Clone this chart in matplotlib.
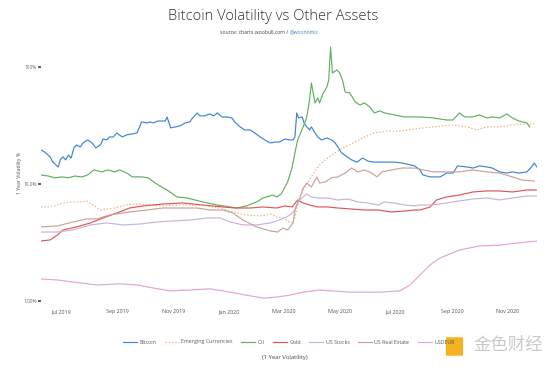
import pandas as pd
import matplotlib
matplotlib.use('Agg')
import matplotlib.pyplot as plt
import matplotlib.dates as mdates
from matplotlib.patches import FancyBboxPatch

plt.rcParams['font.family'] = ['Open Sans', 'DejaVu Sans']

# ---- data (1 year volatility, %) ----
btc_dates = ['2019-06-09', '2019-06-13', '2019-06-19', '2019-06-22', '2019-06-28', '2019-06-30', '2019-07-03',
             '2019-07-06', '2019-07-09', '2019-07-12', '2019-07-15', '2019-07-18', '2019-07-22', '2019-07-25',
             '2019-07-30', '2019-08-04', '2019-08-08', '2019-08-13', '2019-08-16', '2019-08-20', '2019-08-23',
             '2019-08-27', '2019-08-31', '2019-09-06', '2019-09-11', '2019-09-17', '2019-09-22', '2019-09-25',
             '2019-09-27', '2019-10-03', '2019-10-06', '2019-10-10', '2019-10-15', '2019-10-20', '2019-10-23',
             '2019-10-25', '2019-10-29', '2019-11-03', '2019-11-08', '2019-11-14', '2019-11-19', '2019-11-22',
             '2019-11-27', '2019-11-30', '2019-12-05', '2019-12-11', '2019-12-15', '2019-12-19', '2019-12-24',
             '2019-12-29', '2020-01-04', '2020-01-07', '2020-01-13', '2020-01-18', '2020-01-24', '2020-01-29',
             '2020-02-04', '2020-02-09', '2020-02-15', '2020-02-20', '2020-02-25', '2020-03-02', '2020-03-07',
             '2020-03-11', '2020-03-13', '2020-03-15', '2020-03-17', '2020-03-21', '2020-03-23', '2020-03-26',
             '2020-03-29', '2020-03-31', '2020-04-04', '2020-04-07', '2020-04-11', '2020-04-17', '2020-04-22',
             '2020-04-26', '2020-04-29', '2020-05-03', '2020-05-09', '2020-05-14', '2020-05-20', '2020-05-26',
             '2020-06-01', '2020-06-08', '2020-06-19', '2020-06-30', '2020-07-09', '2020-07-17', '2020-07-22',
             '2020-07-28', '2020-07-31', '2020-08-08', '2020-08-19', '2020-08-26', '2020-09-02', '2020-09-07',
             '2020-09-17', '2020-09-24', '2020-10-01', '2020-10-09', '2020-10-15', '2020-10-23', '2020-10-31',
             '2020-11-06', '2020-11-13', '2020-11-22', '2020-11-27', '2020-11-30', '2020-12-03']
btc_vals = [19.6, 18.8, 17.1, 15.4, 14.0, 16.1, 17.1,
            16.1, 17.7, 16.7, 20.4, 21.6, 20.8, 22.5,
            23.9, 22.5, 20.4, 21.6, 24.3, 23.9, 25.3,
            25.3, 27.4, 25.3, 26.4, 26.9, 27.4, 30.9,
            34.1, 33.4, 34.1, 33.4, 34.7, 34.7, 34.7,
            37.6, 30.3, 30.9, 31.5, 33.4, 34.1, 36.9,
            40.7, 38.4, 38.4, 39.9, 38.4, 40.7, 37.6,
            37.6, 36.9, 34.1, 30.9, 29.1, 29.1, 27.4,
            25.3, 23.9, 22.5, 22.9, 22.9, 24.3, 23.9,
            23.9, 25.3, 40.7, 36.9, 37.6, 33.4, 30.9,
            29.1, 30.9, 27.4, 25.3, 23.9, 24.8, 23.9,
            22.5, 20.8, 18.5, 17.1, 16.1, 15.4, 16.7,
            15.7, 15.4, 15.4, 15.4, 15.1, 14.6, 14.3,
            13.2, 11.95, 11.5, 11.5, 12.4, 12.4, 14.3,
            14.0, 13.7, 14.3, 14.0, 13.7, 12.7, 12.4,
            12.7, 12.4, 12.7, 14.0, 15.1, 14.0]

em_dates = ['2019-06-09', '2019-06-17', '2019-06-24', '2019-07-02', '2019-07-13', '2019-07-24', '2019-07-29',
            '2019-08-05', '2019-08-13', '2019-08-20', '2019-08-29', '2019-09-09', '2019-09-20', '2019-10-04',
            '2019-10-20', '2019-11-08', '2019-11-30', '2019-12-22', '2020-01-02', '2020-01-09', '2020-01-20',
            '2020-02-04', '2020-02-15', '2020-02-22', '2020-02-29', '2020-03-07', '2020-03-11', '2020-03-13',
            '2020-03-18', '2020-03-24', '2020-03-31', '2020-04-07', '2020-04-15', '2020-04-26', '2020-05-07',
            '2020-05-18', '2020-05-28', '2020-06-08', '2020-06-23', '2020-07-08', '2020-07-22', '2020-08-11',
            '2020-09-02', '2020-09-17', '2020-09-28', '2020-10-09', '2020-10-23', '2020-11-06', '2020-11-17',
            '2020-11-30']
em_vals = [6.35, 6.35, 6.48, 6.87, 7.01, 7.01, 7.15,
           6.60, 5.98, 6.10, 6.22, 6.60, 6.73, 6.60,
           6.48, 6.60, 6.60, 6.22, 5.86, 5.64, 5.42,
           5.31, 5.53, 5.21, 5.11, 4.72, 4.63, 5.21,
           7.73, 9.42, 11.5, 14.0, 16.1, 18.5, 20.8,
           22.9, 25.3, 27.4, 28.5, 28.5, 29.7, 30.9,
           32.1, 30.9, 29.1, 30.9, 30.9, 32.1, 32.7,
           32.7]

oil_dates = ['2019-06-09', '2019-06-17', '2019-06-24', '2019-07-02', '2019-07-09', '2019-07-16', '2019-07-24',
             '2019-07-30', '2019-08-06', '2019-08-15', '2019-08-21', '2019-08-29', '2019-09-03', '2019-09-11',
             '2019-09-17', '2019-09-22', '2019-09-27', '2019-10-04', '2019-10-12', '2019-10-19', '2019-10-25',
             '2019-11-05', '2019-11-16', '2019-12-03', '2019-12-19', '2020-01-02', '2020-01-09', '2020-01-20',
             '2020-01-31', '2020-02-07', '2020-02-18', '2020-02-22', '2020-02-27', '2020-03-02', '2020-03-05',
             '2020-03-10', '2020-03-13', '2020-03-16', '2020-03-22', '2020-03-26', '2020-03-29', '2020-03-31',
             '2020-04-04', '2020-04-07', '2020-04-09', '2020-04-13', '2020-04-17', '2020-04-19', '2020-04-21',
             '2020-04-23', '2020-04-28', '2020-05-01', '2020-05-04', '2020-05-07', '2020-05-12', '2020-05-18',
             '2020-05-23', '2020-05-28', '2020-06-03', '2020-06-08', '2020-06-14', '2020-06-19', '2020-06-30',
             '2020-07-11', '2020-07-20', '2020-07-28', '2020-08-11', '2020-08-26', '2020-09-02', '2020-09-09',
             '2020-09-15', '2020-09-23', '2020-10-01', '2020-10-09', '2020-10-15', '2020-10-23', '2020-10-31',
             '2020-11-06', '2020-11-13', '2020-11-22', '2020-11-25']
oil_vals = [11.95, 11.7, 11.3, 11.5, 11.3, 11.7, 11.5,
            11.95, 13.2, 12.7, 13.2, 12.7, 13.2, 12.4,
            11.5, 11.5, 11.5, 11.3, 10.2, 9.42, 8.88,
            7.73, 7.58, 7.01, 6.60, 6.35, 6.22, 6.48,
            7.01, 7.58, 8.04, 7.73, 8.21, 9.42, 10.4,
            14.0, 18.5, 23.9, 30.9, 37.6, 52.6, 73.6,
            49.6, 54.7, 49.6, 60.4, 68.0, 78.1, 150.0,
            89.7, 95.2, 89.7, 78.1, 61.6, 60.4, 50.6,
            47.6, 49.6, 45.8, 40.7, 42.4, 40.7, 39.1,
            37.6, 37.6, 37.6, 36.9, 35.4, 35.4, 40.7,
            37.6, 37.6, 39.1, 36.9, 37.6, 36.9, 39.9,
            36.9, 34.7, 33.4, 30.9]

gold_dates = ['2019-06-09', '2019-06-19', '2019-06-27', '2019-07-03', '2019-07-18', '2019-08-02', '2019-08-16',
              '2019-08-31', '2019-09-14', '2019-09-29', '2019-10-20', '2019-11-11', '2019-12-03', '2019-12-25',
              '2020-01-09', '2020-01-24', '2020-02-07', '2020-02-22', '2020-03-02', '2020-03-10', '2020-03-16',
              '2020-03-18', '2020-03-22', '2020-03-29', '2020-04-07', '2020-04-18', '2020-04-29', '2020-05-14',
              '2020-05-28', '2020-06-12', '2020-06-27', '2020-07-11', '2020-07-22', '2020-07-28', '2020-08-08',
              '2020-08-15', '2020-08-26', '2020-09-09', '2020-09-24', '2020-10-09', '2020-10-23', '2020-11-06',
              '2020-11-22', '2020-12-03']
gold_vals = [3.24, 3.31, 3.65, 4.03, 4.28, 4.63, 5.11,
             5.64, 6.22, 6.48, 6.73, 6.87, 6.60, 6.35,
             6.22, 6.22, 6.35, 6.22, 6.48, 6.35, 7.29,
             7.15, 6.87, 6.60, 6.35, 6.35, 6.22, 6.10,
             5.98, 5.98, 5.75, 5.86, 5.98, 5.98, 6.35,
             7.29, 7.73, 8.04, 8.54, 8.71, 8.71, 8.54,
             8.88, 8.88]

stocks_dates = ['2019-06-09', '2019-06-27', '2019-07-14', '2019-08-02', '2019-08-20', '2019-09-07', '2019-09-25',
                '2019-10-14', '2019-10-31', '2019-11-19', '2019-12-08', '2019-12-22', '2020-01-02', '2020-01-16',
                '2020-01-31', '2020-02-15', '2020-02-25', '2020-03-04', '2020-03-10', '2020-03-13', '2020-03-16',
                '2020-03-22', '2020-03-26', '2020-03-31', '2020-04-07', '2020-04-18', '2020-04-29', '2020-05-10',
                '2020-05-21', '2020-06-01', '2020-06-12', '2020-06-19', '2020-06-30', '2020-07-11', '2020-07-22',
                '2020-07-28', '2020-08-11', '2020-08-26', '2020-09-09', '2020-09-24', '2020-10-09', '2020-10-23',
                '2020-11-06', '2020-11-22', '2020-12-03']
stocks_vals = [3.87, 3.87, 4.03, 4.45, 4.63, 4.45, 4.53,
               4.72, 4.81, 4.91, 5.11, 5.11, 4.72, 4.45,
               4.45, 4.63, 4.91, 5.21, 5.64, 5.98, 7.01,
               7.73, 8.21, 7.73, 7.58, 7.58, 7.29, 7.43,
               7.01, 6.87, 6.60, 7.01, 6.87, 6.60, 6.48,
               6.60, 6.60, 6.87, 7.15, 7.43, 7.58, 7.29,
               7.58, 7.89, 7.89]

reit_dates = ['2019-06-09', '2019-06-27', '2019-07-14', '2019-07-29', '2019-08-09', '2019-08-23', '2019-09-14',
              '2019-10-03', '2019-10-20', '2019-11-08', '2019-11-27', '2019-12-11', '2019-12-25', '2020-01-05',
              '2020-01-16', '2020-01-31', '2020-02-15', '2020-02-23', '2020-02-29', '2020-03-05', '2020-03-11',
              '2020-03-13', '2020-03-18', '2020-03-22', '2020-03-26', '2020-03-31', '2020-04-06', '2020-04-09',
              '2020-04-15', '2020-04-22', '2020-04-29', '2020-05-07', '2020-05-14', '2020-05-21', '2020-05-28',
              '2020-06-05', '2020-06-11', '2020-06-16', '2020-06-27', '2020-07-08', '2020-07-22', '2020-08-11',
              '2020-08-26', '2020-09-09', '2020-09-24', '2020-10-09', '2020-10-23', '2020-11-06', '2020-11-17',
              '2020-11-30']
reit_vals = [4.28, 4.36, 4.72, 5.01, 5.01, 5.42, 5.75,
             5.98, 6.22, 6.22, 6.22, 5.98, 5.98, 5.64,
             4.91, 4.28, 3.95, 3.87, 4.19, 4.03, 4.63,
             5.98, 7.43, 9.24, 10.2, 9.42, 11.5, 10.2,
             10.4, 11.3, 11.5, 12.4, 13.7, 12.7, 13.2,
             12.4, 11.5, 12.7, 13.2, 13.7, 13.7, 12.7,
             12.7, 12.7, 13.2, 12.7, 12.4, 11.5, 10.8,
             10.6]

usdeur_dates = ['2019-06-09', '2019-06-27', '2019-07-14', '2019-08-09', '2019-09-04', '2019-09-22', '2019-10-10',
                '2019-10-28', '2019-11-19', '2019-12-11', '2020-01-02', '2020-01-20', '2020-02-07', '2020-02-22',
                '2020-03-07', '2020-03-22', '2020-04-09', '2020-05-12', '2020-06-14', '2020-07-06', '2020-07-17',
                '2020-07-28', '2020-08-08', '2020-08-19', '2020-09-09', '2020-10-01', '2020-10-23', '2020-11-13',
                '2020-12-03']
usdeur_vals = [1.53, 1.50, 1.44, 1.36, 1.39, 1.36, 1.28,
               1.21, 1.23, 1.26, 1.18, 1.11, 1.05, 1.07,
               1.11, 1.18, 1.23, 1.18, 1.18, 1.21, 1.36,
               1.66, 2.02, 2.32, 2.71, 2.94, 2.99, 3.12,
               3.24]

series = [
    ('Bitcoin', btc_dates, btc_vals, '#3d85d8', '-'),
    ('Emerging Currencies', em_dates, em_vals, '#f3ad7c', (0, (1.2, 1.6))),
    ('Oil', oil_dates, oil_vals, '#5fb05f', '-'),
    ('Gold', gold_dates, gold_vals, '#e05656', '-'),
    ('US Stocks', stocks_dates, stocks_vals, '#c7b3de', '-'),
    ('US Real Estate', reit_dates, reit_vals, '#c9a29b', '-'),
    ('USDEUR', usdeur_dates, usdeur_vals, '#e4a3d8', '-'),
]

fig = plt.figure(figsize=(5.54, 3.66), dpi=100)
W, H = 554, 366
ax = fig.add_axes([41 / W, 1 - 305 / H, 496 / W, 265 / H])

for name, d, v, c, ls in series:
    ax.plot(pd.to_datetime(d), v, color=c, lw=0.85, ls=ls, label=name)

ax.set_yscale('log')
ax.set_ylim(0.915, 172)
ax.set_xlim(pd.Timestamp('2019-06-09'), pd.Timestamp('2020-12-03'))
ax.set_yticks([1, 10, 100])
ax.set_yticklabels(['1.00%', '10.0%', '100%'])
ax.yaxis.set_minor_locator(matplotlib.ticker.NullLocator())
ax.tick_params(axis='y', length=2, width=1.2, color='#444444', labelsize=3.4,
               labelcolor='#666666', pad=1)
ax.xaxis.set_major_locator(mdates.MonthLocator(bymonth=[1, 3, 5, 7, 9, 11]))
ax.xaxis.set_major_formatter(mdates.DateFormatter('%b %Y'))
ax.tick_params(axis='x', length=0, labelsize=3.9, labelcolor='#555555', pad=3)
for s in ax.spines.values():
    s.set_visible(False)

ax.set_ylabel('1 Year Volatility %', fontsize=3.7, color='#555555', labelpad=1)

fig.text(273 / W, 1 - 17 / H, 'Bitcoin Volatility vs Other Assets', ha='center', va='center',
         fontsize=10.6, color='#333333', fontweight='light')
fig.text(290 / W, 1 - 32 / H, 'source: charts.woobull.com / ', ha='right', va='center',
         fontsize=3.7, color='#444444')
fig.text(290 / W, 1 - 32 / H, '@woonomic', ha='left', va='center', fontsize=3.7, color='#3d7fcf')

leg = fig.legend(loc='center', bbox_to_anchor=(289 / W, 1 - 342 / H), ncol=7, frameon=False,
                 fontsize=3.8, handlelength=2.6, columnspacing=1.6, handletextpad=0.5)
for t in leg.get_texts():
    t.set_color('#555555')

fig.text(285 / W, 1 - 358 / H, '(1 Year Volatility)', ha='center', va='center', fontsize=4.2, color='#444444')

# watermark
fig.patches.append(FancyBboxPatch((447 / W, 1 - 355 / H), 15 / W, 17 / H, boxstyle='round,pad=0.002',
                                  transform=fig.transFigure, fc='#f4b120', ec='none'))
fig.text(508 / W, 1 - 345 / H, '金色财经', ha='center', va='center', fontsize=12.5,
         color='#c9c9c9', family=['Noto Sans CJK SC', 'DejaVu Sans'])

fig.savefig('out.png', dpi=100)
